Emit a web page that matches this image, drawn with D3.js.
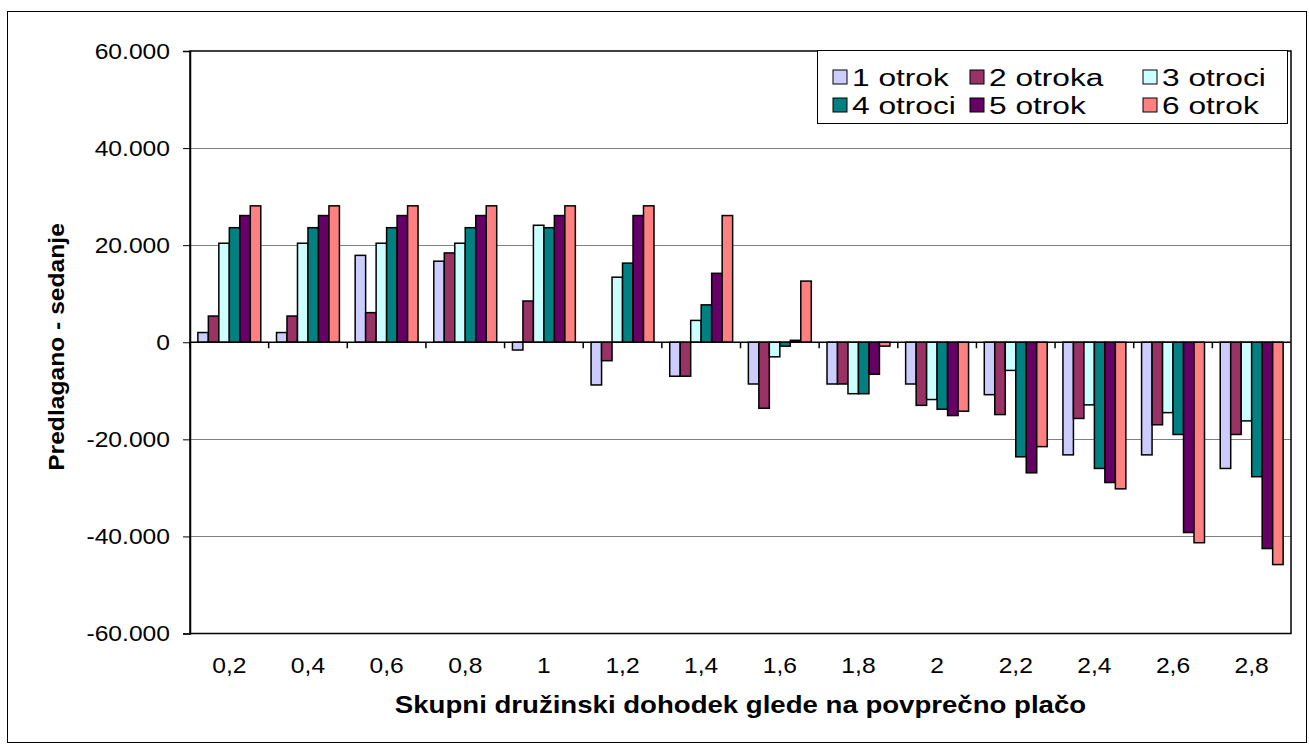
<!DOCTYPE html>
<html>
	<head>
		<meta charset="UTF-8">
		<title></title>
		<script src="https://cdn.jsdelivr.net/npm/d3@7/dist/d3.min.js"></script>
		<style type="text/css">
			*{
				margin: 0;
				padding: 0;
			}
			body{
				background: #fff;
			}
			#mychart{
				width: 1309px;
				height: 744px;
			}
			text{
				font-family: Arial, "Liberation Sans", sans-serif;
			}
		</style>
	</head>
	<body>
		<div id="mychart"></div>
	</body>
</html>
<script type="text/javascript">
	//x轴类别
	var categories = ["0,2","0,4","0,6","0,8","1","1,2","1,4","1,6","1,8","2","2,2","2,4","2,6","2,8"];
	//系列名称
	var seriesNames = ["1 otrok","2 otroka","3 otroci","4 otroci","5 otrok","6 otrok"];
	var seriesColors = ["#CCCCFF","#993366","#CCFFFF","#008080","#660066","#FF8080"];
	//各系列数值
	var s1 = [2000, 2000, 17900, 16700, -1600, -8800, -7000, -8600, -8600, -8600, -10800, -23200, -23200, -26000];
	var s2 = [5400, 5400, 6100, 18400, 8500, -3800, -7000, -13600, -8600, -13000, -14900, -15700, -17000, -19000];
	var s3 = [20400, 20400, 20400, 20400, 24100, 13400, 4500, -3000, -10600, -11800, -5800, -12900, -14500, -16200];
	var s4 = [23600, 23600, 23600, 23600, 23600, 16300, 7700, -800, -10600, -13800, -23600, -26000, -19000, -27700];
	var s5 = [26100, 26100, 26100, 26100, 26100, 26100, 14200, 400, -6600, -15100, -26900, -28900, -39200, -42500];
	var s6 = [28100, 28100, 28100, 28100, 28100, 28100, 26100, 12600, -800, -14200, -21500, -30200, -41300, -45800];
	var seriesValues = [s1, s2, s3, s4, s5, s6];
	//y轴刻度
	var yTicks = [60000, 40000, 20000, 0, -20000, -40000, -60000];

	drawBars("mychart");

	function drawBars(divId){
		var _divW = 1309;
		var _divH = 744;
		//绘图区位置
		var _plot = {left: 190, top: 51, right: 1291, bottom: 633.5};
		//原图文字横向拉伸
		var _sxTick = 1.12;
		var _sxLegend = 1.32;

		var _svg = d3.select("#" + divId)
			.append("svg")
			.attr("width", _divW)
			.attr("height", _divH);

		//外框
		_svg.append("rect")
			.attr("x", 7.5)
			.attr("y", 11.5)
			.attr("width", 1299)
			.attr("height", 731)
			.attr("fill", "#fff")
			.attr("stroke", "#000")
			.attr("stroke-width", 1);

		var locale = d3.formatLocale({decimal: ",", thousands: ".", grouping: [3], currency: ["", " €"], minus: "-"});
		var fmt = locale.format(",");

		//比例尺
		var _yscale = d3.scaleLinear()
			.domain([-60000, 60000])
			.range([_plot.bottom, _plot.top]);
		var _xscale = d3.scaleBand()
			.domain(categories)
			.range([_plot.left, _plot.right]);
		// 间距宽度 150%
		var barW = _xscale.bandwidth() / 7.5;
		var barOff = barW * 0.75;

		//网格线
		_svg.append("g")
			.selectAll("line")
			.data(yTicks.filter(function(d){ return d != 0 && Math.abs(d) != 60000; }))
			.enter()
			.append("line")
			.attr("x1", _plot.left)
			.attr("x2", _plot.right)
			.attr("y1", function(d){ return Math.round(_yscale(d)) + 0.5; })
			.attr("y2", function(d){ return Math.round(_yscale(d)) + 0.5; })
			.attr("stroke", "#808080")
			.attr("stroke-width", 1);

		//条形
		var _gbars = _svg.append("g");
		seriesValues.forEach(function(vals, si){
			_gbars.append("g")
				.selectAll("rect")
				.data(vals)
				.enter()
				.append("rect")
				.attr("x", function(d, i){ return _xscale(categories[i]) + barOff + si * barW; })
				.attr("y", function(d){ return _yscale(Math.max(d, 0)); })
				.attr("width", barW)
				.attr("height", function(d){ return Math.abs(_yscale(d) - _yscale(0)); })
				.attr("fill", seriesColors[si])
				.attr("stroke", "#000")
				.attr("stroke-width", 1.5);
		});

		//绘图区边框
		_svg.append("rect")
			.attr("x", _plot.left)
			.attr("y", _plot.top)
			.attr("width", _plot.right - _plot.left)
			.attr("height", _plot.bottom - _plot.top)
			.attr("fill", "none")
			.attr("stroke", "#000")
			.attr("stroke-width", 1.5);

		//零线（类别轴）
		var _gx = _svg.append("g")
			.attr("transform", "translate(0," + _yscale(0) + ")");
		_gx.append("line")
			.attr("x1", _plot.left)
			.attr("x2", _plot.right)
			.attr("stroke", "#000")
			.attr("stroke-width", 1.5);
		_gx.selectAll(".xtick")
			.data(categories)
			.enter()
			.append("line")
			.attr("class", "xtick")
			.attr("x1", function(d){ return _xscale(d); })
			.attr("x2", function(d){ return _xscale(d); })
			.attr("y1", 0)
			.attr("y2", 6)
			.attr("stroke", "#000")
			.attr("stroke-width", 1.5);

		//x轴标签
		_svg.append("g")
			.selectAll("text")
			.data(categories)
			.enter()
			.append("text")
			.attr("transform", function(d){
				return "translate(" + (_xscale(d) + _xscale.bandwidth() / 2) + ",665) scale(" + _sxTick + ",1)";
			})
			.attr("dy", "0.35em")
			.attr("text-anchor", "middle")
			.style("font-size", "22px")
			.text(function(d){ return d; });

		//y轴
		var _yaxis = d3.axisLeft(_yscale)
			.tickValues(yTicks)
			.tickSize(7)
			.tickPadding(12)
			.tickFormat(fmt);
		var _gy = _svg.append("g")
			.attr("transform", "translate(" + _plot.left + ",0)")
			.call(_yaxis);
		_gy.select(".domain").attr("stroke-width", 1.5);
		_gy.selectAll("text")
			.attr("x", -20 / _sxTick)
			.attr("transform", "scale(" + _sxTick + ",1)")
			.attr("fill", "#000")
			.style("font-size", "22px")
			.style("font-family", "Arial, 'Liberation Sans', sans-serif");

		//轴标题
		_svg.append("text")
			.attr("transform", "translate(56,347) rotate(-90) scale(1.12,1)")
			.attr("text-anchor", "middle")
			.attr("dy", "0.35em")
			.style("font-size", "22px")
			.style("font-weight", "bold")
			.text("Predlagano - sedanje");
		_svg.append("text")
			.attr("transform", "translate(" + ((_plot.left + _plot.right) / 2) + ",705) scale(1.2,1)")
			.attr("dy", "0.35em")
			.attr("text-anchor", "middle")
			.style("font-size", "23px")
			.style("font-weight", "bold")
			.text("Skupni družinski dohodek glede na povprečno plačo");

		//图例
		var _glegend = _svg.append("g");
		_glegend.append("rect")
			.attr("x", 817.5)
			.attr("y", 50.5)
			.attr("width", 470)
			.attr("height", 73)
			.attr("fill", "#fff")
			.attr("stroke", "#000")
			.attr("stroke-width", 1);
		var colX = [833, 970, 1143];
		var rowY = [77, 105];
		var _items = _glegend.selectAll(".litem")
			.data(seriesNames)
			.enter()
			.append("g")
			.attr("class", "litem")
			.attr("transform", function(d, i){
				return "translate(" + colX[i % 3] + "," + rowY[Math.floor(i / 3)] + ")";
			});
		_items.append("rect")
			.attr("x", 0)
			.attr("y", -7)
			.attr("width", 14)
			.attr("height", 14)
			.attr("fill", function(d, i){ return seriesColors[i]; })
			.attr("stroke", "#000")
			.attr("stroke-width", 1);
		_items.append("text")
			.attr("transform", "translate(19,0) scale(" + _sxLegend + ",1)")
			.attr("dy", "0.36em")
			.style("font-size", "24px")
			.text(function(d){ return d; });
	}
</script>
